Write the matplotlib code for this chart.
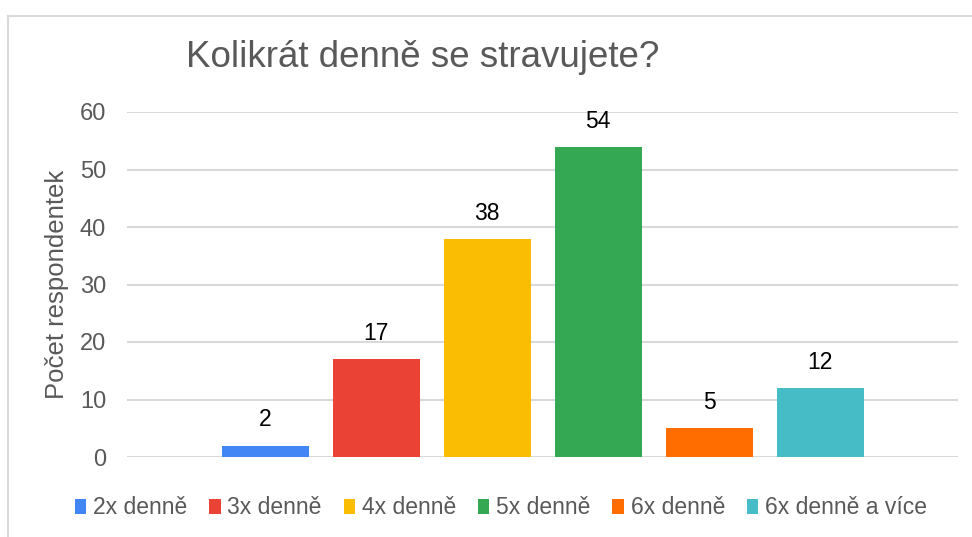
import matplotlib
matplotlib.use("Agg")
import matplotlib.pyplot as plt
from matplotlib.patches import Patch
from matplotlib.lines import Line2D

categories = ["2x denně", "3x denně", "4x denně", "5x denně", "6x denně", "6x denně a více"]
values = [2, 17, 38, 54, 5, 12]
colors = ["#4285F4", "#EA4335", "#FBBC04", "#34A853", "#FF6D01", "#46BDC6"]
yticks = [0, 10, 20, 30, 40, 50, 60]
title = "Kolikrát denně se stravujete?"
ylabel = "Počet respondentek"

plt.rcParams['font.family'] = ['Liberation Sans', 'DejaVu Sans']

W, H = 972, 537
fig = plt.figure(figsize=(W / 100, H / 100), dpi=100)
fig.patch.set_facecolor("white")

# plot area in pixels
left, right, top, bottom = 127, 958, 112, 457
ax = fig.add_axes([left / W, (H - bottom) / H, (right - left) / W, (bottom - top) / H])

xs = list(range(len(values)))
bars = ax.bar(xs, values, width=0.785, color=colors, zorder=3)
ax.set_xlim(-1.249, len(values) - 1 + 1.244)
ax.set_ylim(0, 60)
ax.set_yticks(yticks)
ax.set_yticklabels([str(t) for t in yticks], fontsize=17, color="#595959")
ax.set_xticks([])
ax.yaxis.grid(True, color="#d9d9d9", linewidth=1.5, zorder=0)
ax.tick_params(axis="y", length=0, pad=15)
for s in ax.spines.values():
    s.set_visible(False)

for x, v in zip(xs, values):
    ax.annotate(str(v), (x, v), xytext=(0, 14), textcoords="offset pixels",
                ha="center", va="bottom", fontsize=16.5, color="black")

ax.set_ylabel(ylabel, fontsize=18.5, color="#595959")
ax.yaxis.set_label_coords(-(left - 57) / (right - left), 0.5)
ax.yaxis.label.set_va("center")

fig.text(186 / W, (H - 67) / H, title, fontsize=26.5, color="#595959",
         ha="left", va="baseline")

handles = [Patch(facecolor=c, edgecolor="none") for c in colors]
fig.legend(handles, categories, loc="center", bbox_to_anchor=(501 / W, (H - 508) / H),
           ncol=6, frameon=False, fontsize=16.5, labelcolor="#595959",
           handlelength=0.5, handleheight=0.6, handletextpad=0.3,
           columnspacing=0.95, borderaxespad=0)

# chart border (top and left visible)
fig.add_artist(Line2D([7.5 / W, 1.0], [(H - 15.5) / H, (H - 15.5) / H],
                      transform=fig.transFigure, color="#d9d9d9", linewidth=1.5))
fig.add_artist(Line2D([7.5 / W, 7.5 / W], [0, (H - 15.5) / H],
                      transform=fig.transFigure, color="#d9d9d9", linewidth=1.5))

fig.savefig("out.png", dpi=100, facecolor="white")
